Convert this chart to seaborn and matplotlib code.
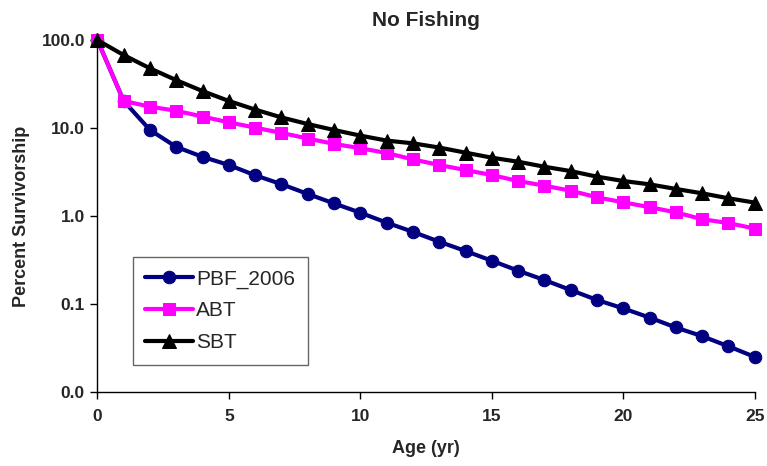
import numpy as np
import pandas as pd
import matplotlib
matplotlib.use("Agg")
import matplotlib.pyplot as plt
from matplotlib.ticker import FixedLocator, FuncFormatter, NullLocator
import seaborn as sns

ages = list(range(26))
pbf_2006 = [100, 20.3, 9.5, 6.1, 4.7, 3.8, 2.9, 2.3, 1.78, 1.39, 1.09, 0.84, 0.66,
            0.51, 0.40, 0.31, 0.239, 0.187, 0.144, 0.111, 0.089, 0.070, 0.054,
            0.043, 0.033, 0.025]
abt = [100, 20.3, 17.5, 15.7, 13.5, 11.6, 10.1, 8.8, 7.6, 6.6, 5.9, 5.2, 4.4,
       3.8, 3.33, 2.92, 2.5, 2.21, 1.94, 1.63, 1.43, 1.26, 1.1, 0.92, 0.83, 0.72]
sbt = [100, 67.5, 47.7, 35.0, 26.3, 20.3, 16.2, 13.2, 11.1, 9.5, 8.2, 7.2, 6.7,
       6.0, 5.25, 4.6, 4.14, 3.63, 3.24, 2.8, 2.5, 2.29, 2.03, 1.81, 1.59, 1.42]
series_names = ["PBF_2006", "ABT", "SBT"]
y_ticks = [0.01, 0.1, 1, 10, 100]
x_ticks = [0, 5, 10, 15, 20, 25]

df = pd.DataFrame({
    "Age": ages * 3,
    "Survivorship": pbf_2006 + abt + sbt,
    "Series": sum([[n] * len(ages) for n in series_names], []),
})

sns.set_theme(style="white")
plt.rcParams["font.family"] = ["Liberation Sans", "DejaVu Sans"]

fig = plt.figure(figsize=(7.67, 4.66), dpi=100)
ax = fig.add_axes([0.127, 0.159, 0.857, 0.755])

styles = {"PBF_2006": ("#000080", "o", 9),
          "ABT": ("#FF00FF", "s", 9),
          "SBT": ("#000000", "^", 10)}
for name in series_names:
    color, marker, ms = styles[name]
    sub = df[df["Series"] == name]
    sns.lineplot(data=sub, x="Age", y="Survivorship", ax=ax, color=color,
                 marker=marker, markersize=ms, markeredgecolor=color,
                 linewidth=3, label=name, clip_on=False, zorder=3)

ax.set_yscale("log")
ax.set_ylim(0.01, 100)
ax.set_xlim(0, 25)
ax.yaxis.set_major_locator(FixedLocator(y_ticks))
ax.yaxis.set_minor_locator(NullLocator())
ax.yaxis.set_major_formatter(FuncFormatter(lambda v, p: f"{v:.1f}"))
ax.set_xticks(x_ticks)

for side in ["top", "right"]:
    ax.spines[side].set_visible(False)
for side in ["left", "bottom"]:
    ax.spines[side].set_color("black")
    ax.spines[side].set_linewidth(1)

ax.tick_params(axis="both", which="major", direction="out", length=5,
               width=1, color="black", labelsize=12.5, left=True, bottom=True,
               pad=4)
ax.tick_params(axis="x", pad=7)
for lab in ax.get_xticklabels() + ax.get_yticklabels():
    lab.set_fontweight("bold")

ax.set_xlabel("Age (yr)", fontsize=13, fontweight="bold", labelpad=12)
ax.set_ylabel("Percent Survivorship", fontsize=13, fontweight="bold", labelpad=8)
ax.set_title("No Fishing", fontsize=15, fontweight="bold", pad=10)

leg = ax.legend(loc="upper left", bbox_to_anchor=(0.054, 0.384), fontsize=15,
                frameon=True, fancybox=False, edgecolor="#404040",
                handlelength=2.3, borderpad=0.6, labelspacing=0.62,
                handletextpad=0.15, borderaxespad=0)
leg.get_frame().set_linewidth(1)

fig.savefig("out.png", dpi=100)
